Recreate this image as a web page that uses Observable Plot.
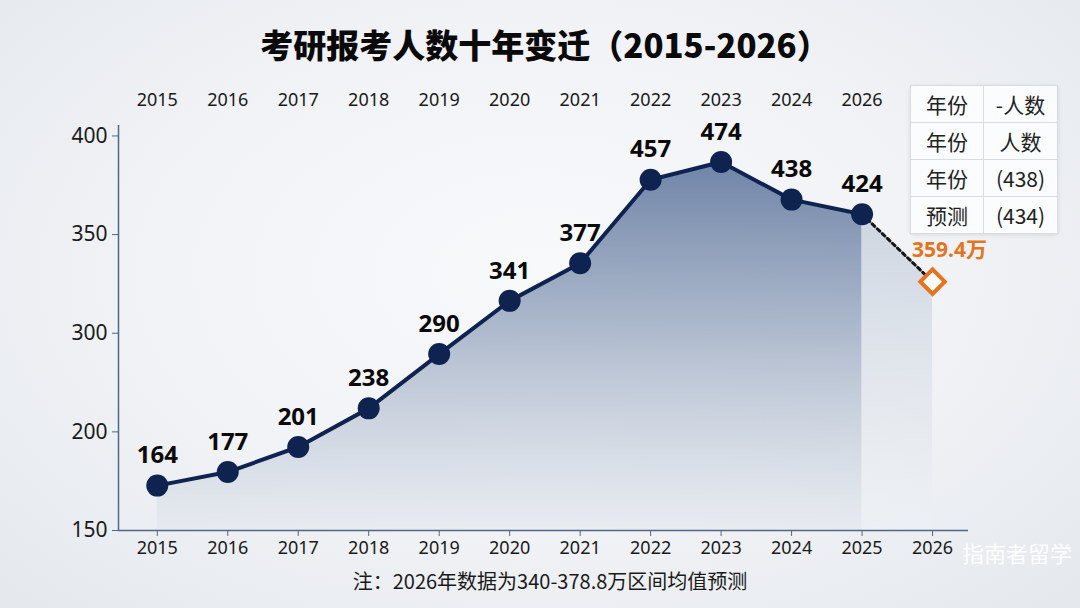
<!DOCTYPE html>
<html>
<head>
<meta charset="utf-8">
<script src="https://cdn.jsdelivr.net/npm/d3@7"></script>
<script src="https://cdn.jsdelivr.net/npm/@observablehq/plot@0.6"></script>
<style>
  html, body { margin: 0; padding: 0; }
  body {
    width: 1080px; height: 608px; overflow: hidden; position: relative;
    background: radial-gradient(ellipse at 50% 45%, #f8f9fb 0%, #f0f2f5 55%, #e4e8ed 100%);
    font-family: "Noto Sans", "Noto Sans CJK SC", sans-serif;
  }
  #title {
    height: 72px; box-sizing: border-box; padding-top: 27px;
    text-align: center; font-family: "Noto Sans CJK SC", sans-serif;
    font-weight: 900; font-size: 33px; line-height: 35px; color: #0a0a0a;
    padding-left: 10px;
  }
  #chart svg { display: block; }
  #note {
    margin-top: 7px; text-align: center; padding-left: 20px;
    font-family: "Noto Sans CJK SC", sans-serif; font-size: 20px; line-height: 24px; color: #1a1a1a;
  }
  #legendTable {
    position: absolute; left: 910px; top: 85px; width: 148px; height: 147px;
    border-collapse: collapse; background: rgba(251,252,253,0.95);
    box-shadow: 0 1px 4px rgba(0,0,0,0.10); border-radius: 4px;
    font-family: "Noto Sans CJK SC", sans-serif; font-size: 21px; color: #222;
  }
  #legendTable td { border: 1px solid #d9dde2; text-align: center; padding: 0; height: 36px; }
  #legendTable td:first-child { width: 72px; }
  #watermark {
    position: absolute; left: 962px; top: 536px; font-family: "Noto Sans CJK SC", sans-serif;
    font-size: 22px; color: rgba(255,255,255,0.92); letter-spacing: 0px;
  }
</style>
</head>
<body>
<div id="title">考研报考人数十年变迁（2015-2026）</div>
<div id="chart"></div>
<div id="note">注：2026年数据为340-378.8万区间均值预测</div>
<table id="legendTable"></table>
<div id="watermark">指南者留学</div>
<script>
// ---- data ----
const years = [2015, 2016, 2017, 2018, 2019, 2020, 2021, 2022, 2023, 2024, 2025];
const applicants = [164, 177, 201, 238, 290, 341, 377, 457, 474, 438, 424];
const forecastYear = 2026;
const forecastValue = 359.4;
const forecastLabel = "359.4万";
const bottomTickYears = [2015, 2016, 2017, 2018, 2019, 2020, 2021, 2022, 2023, 2024, 2025, 2026];
const bottomTickLabels = ["2015", "2016", "2017", "2018", "2019", "2020", "2021", "2022", "2023", "2024", "2025", "2026"];
const topTickLabels = ["2015", "2016", "2017", "2018", "2019", "2020", "2021", "2022", "2023", "2024", "2026"];
const yTickLabels = ["150", "200", "300", "350", "400"];
const tableYearCol = ["年份", "年份", "年份", "预测"];
const tableValueCol = ["-人数", "人数", "(438)", "(434)"];

// ---- derived ----
const data = years.map((year, i) => ({year, value: applicants[i]}));
const lastPoint = data[data.length - 1];
const forecast = [lastPoint, {year: forecastYear, value: forecastValue}];
const yBase = 121, yTop = 499;
const yTicks = d3.range(yTickLabels.length).map(i => yBase + i * (yTop - yBase) / (yTickLabels.length - 1));

const navy = "#0f2350";
const axisColor = "#506786";

const defs = () => {
  const d = d3.create("svg:defs");
  const g1 = d.append("linearGradient").attr("id", "areaGrad").attr("x1", 0).attr("y1", 0).attr("x2", 0).attr("y2", 1);
  g1.append("stop").attr("offset", "0%").attr("stop-color", "#687ea3").attr("stop-opacity", 0.95);
  g1.append("stop").attr("offset", "45%").attr("stop-color", "#a0aec4").attr("stop-opacity", 0.85);
  g1.append("stop").attr("offset", "100%").attr("stop-color", "#e3e8ee").attr("stop-opacity", 0.6);
  const g2 = d.append("linearGradient").attr("id", "fcGrad").attr("x1", 0).attr("y1", 0).attr("x2", 0).attr("y2", 1);
  g2.append("stop").attr("offset", "0%").attr("stop-color", "#c4cedb").attr("stop-opacity", 0.8);
  g2.append("stop").attr("offset", "100%").attr("stop-color", "#eef1f4").attr("stop-opacity", 0.5);
  return d.node();
};

const chart = Plot.plot({
  width: 1080,
  height: 490,
  marginLeft: 118,
  marginRight: 112,
  marginTop: 53,
  marginBottom: 32,
  x: {domain: [2014.45, 2026.51]},
  y: {domain: [yBase, 509]},
  style: {background: "transparent", fontFamily: "'Noto Sans', 'Noto Sans CJK SC', sans-serif", fontSize: "18px", color: "#1a1a1a"},
  marks: [
    defs,
    Plot.areaY(data, {x: "year", y1: yBase, y2: "value", fill: "url(#areaGrad)"}),
    Plot.areaY(forecast, {x: "year", y1: yBase, y2: "value", fill: "url(#fcGrad)"}),
    Plot.ruleY([yBase], {stroke: axisColor, strokeWidth: 1.5}),
    Plot.ruleX([2014.45], {stroke: axisColor, strokeWidth: 1.5}),
    Plot.axisY({ticks: yTicks, tickFormat: (d, i) => yTickLabels[i], tickSize: 6, tickPadding: 5, fontSize: 21, stroke: axisColor, fill: "#1a1a1a", label: null}),
    Plot.axisX({anchor: "bottom", ticks: bottomTickYears, tickFormat: (d, i) => bottomTickLabels[i], tickSize: 6, tickPadding: 5, fontSize: 18, stroke: axisColor, fill: "#1a1a1a", label: null}),
    Plot.axisX({anchor: "top", ticks: years, tickFormat: (d, i) => topTickLabels[i], tickSize: 0, tickPadding: 20, fontSize: 18, fill: "#1a1a1a", label: null}),
    Plot.line(forecast, {x: "year", y: "value", stroke: "#151515", strokeWidth: 3, strokeDasharray: "3.5,3.5"}),
    Plot.line(data, {x: "year", y: "value", stroke: navy, strokeWidth: 4}),
    Plot.dot(data, {x: "year", y: "value", r: 11, fill: navy}),
    Plot.text(data, {x: "year", y: "value", text: d => String(d.value), dy: -30, fontWeight: "bold", fontSize: 24, fill: "#0a0a0a"}),
    Plot.dot([forecast[1]], {x: "year", y: "value", symbol: "diamond2", r: 11, fill: "white", stroke: "#e8731a", strokeWidth: 4}),
    Plot.text([forecast[1]], {x: "year", y: "value", text: () => forecastLabel, dx: 17, dy: -31, fontWeight: "bold", fontSize: 21, fill: "#e8731a"})
  ]
});
document.getElementById("chart").appendChild(chart);

const table = document.getElementById("legendTable");
tableYearCol.forEach((t, i) => {
  const tr = document.createElement("tr");
  const a = document.createElement("td"); a.textContent = t;
  const b = document.createElement("td"); b.textContent = tableValueCol[i];
  tr.appendChild(a); tr.appendChild(b); table.appendChild(tr);
});
</script>
</body>
</html>
